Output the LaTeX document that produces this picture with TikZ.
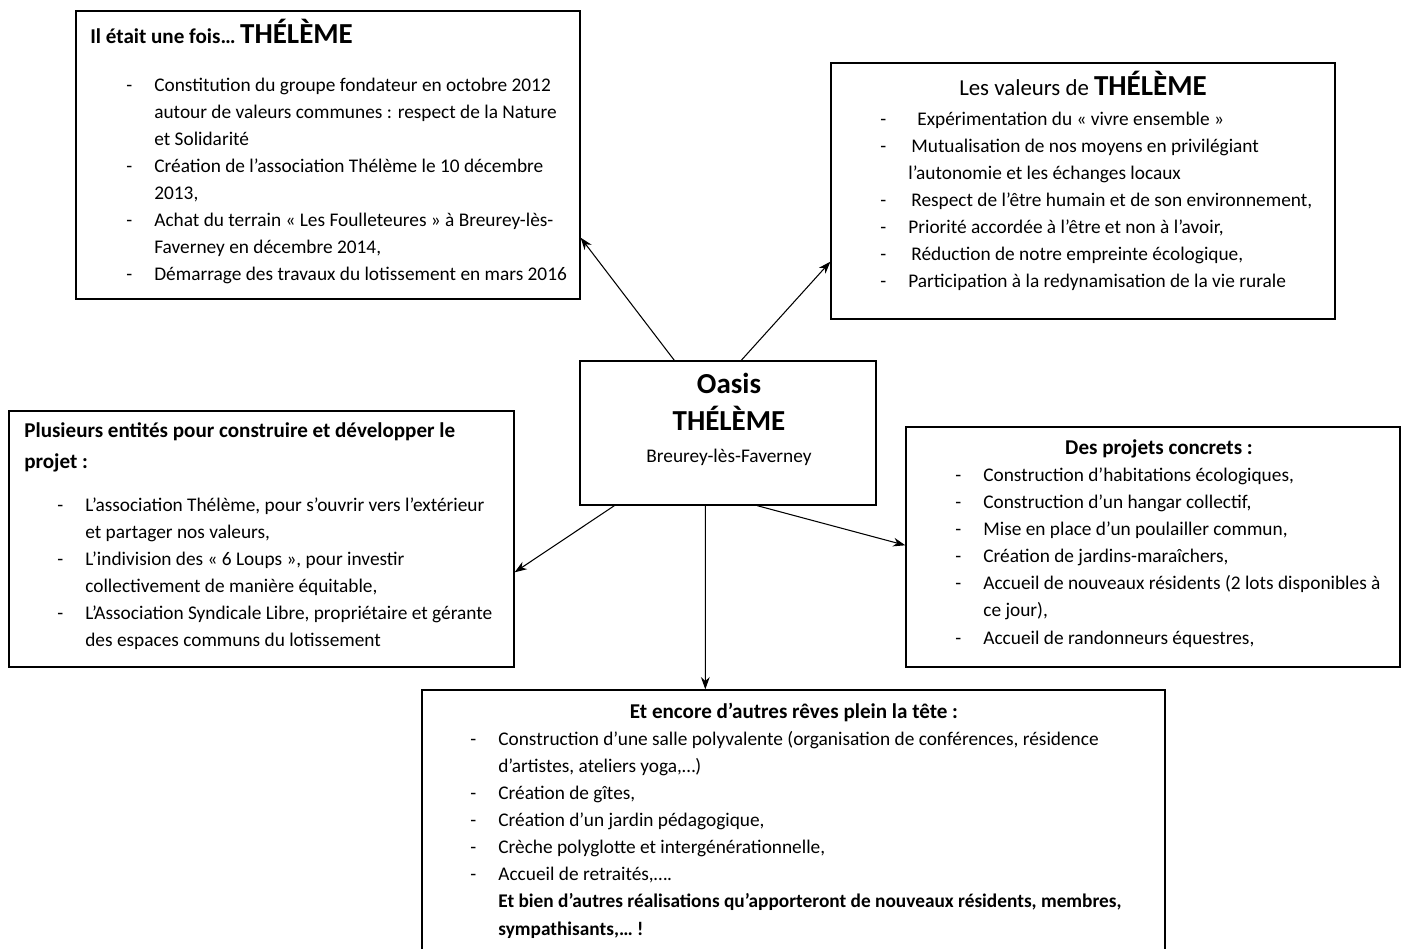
\documentclass[tikz,border=0pt]{standalone}
\usepackage{fontspec}
\setmainfont{Carlito}
\usetikzlibrary{arrows.meta}

\newcommand\tiret{\makebox[0.56cm][l]{-}}
\newcommand\suite{\hspace*{0.56cm}}

\begin{document}
\begin{tikzpicture}[x=0.02cm,y=-0.02cm,
  boite/.style={draw, line width=0.8pt, inner sep=0pt},
  liste/.style={anchor=base west, align=left, inner sep=0pt, font=\fontsize{11}{15.37}\selectfont},
  titre/.style={anchor=base, inner sep=0pt, font=\bfseries\fontsize{12}{15}\selectfont},
  fleche/.style={-{Stealth[length=7pt,width=5pt]}, line width=0.6pt}]
\clip (0,0) rectangle (1401,949);
\fill[white] (0,0) rectangle (1401,949);

\node[boite, minimum width=10.08cm, minimum height=5.76cm] (fois) at (328,155) {};
\node[boite, minimum width=10.08cm, minimum height=5.12cm] (valeurs) at (1083,191) {};
\node[boite, minimum width=5.92cm, minimum height=2.88cm] (centre) at (728,433) {};
\node[boite, minimum width=10.10cm, minimum height=5.12cm] (entites) at (261.5,539) {};
\node[boite, minimum width=9.88cm, minimum height=4.8cm] (projets) at (1153,547) {};
\node[boite, minimum width=14.86cm, minimum height=5.4cm] (reves) at (793.5,825) {};

\node[titre, anchor=base west, font=\bfseries\fontsize{12}{14}\selectfont] (foisTitre) at (90,44) {Il était une fois… {\fontsize{16.5}{19}\selectfont THÉLÈME}};
\node[liste] (foisListe) at (126,281) {\tiret Constitution du groupe fondateur en octobre 2012\\
\suite autour de valeurs communes : respect de la Nature\\
\suite et Solidarité\\
\tiret Création de l’association Thélème le 10 décembre\\
\suite 2013,\\
\tiret Achat du terrain « Les Foulleteures » à Breurey-lès-\\
\suite Faverney en décembre 2014,\\
\tiret Démarrage des travaux du lotissement en mars 2016};

\node[titre, font=\fontsize{13}{16}\selectfont] (valeursTitre) at (1083,96) {Les valeurs de {\bfseries\fontsize{16.5}{19}\selectfont THÉLÈME}};
\node[liste] (valeursListe) at (880,288) {\tiret\hspace*{0.18cm}Expérimentation du « vivre ensemble »\\
\tiret\hspace*{0.06cm}Mutualisation de nos moyens en privilégiant\\
\suite l’autonomie et les échanges locaux\\
\tiret\hspace*{0.06cm}Respect de l’être humain et de son environnement,\\
\tiret Priorité accordée à l’être et non à l’avoir,\\
\tiret\hspace*{0.06cm}Réduction de notre empreinte écologique,\\
\tiret Participation à la redynamisation de la vie rurale};

\node[titre, font=\bfseries\fontsize{16.5}{19}\selectfont] (oasis) at (729,394) {Oasis};
\node[titre, font=\bfseries\fontsize{16.5}{19}\selectfont] (theleme) at (729,431) {THÉLÈME};
\node[titre, font=\fontsize{11}{14}\selectfont] (lieu) at (729,463) {Breurey-lès-Faverney};

\node[titre, anchor=base west, align=left, font=\bfseries\fontsize{12}{18.2}\selectfont] (entitesTitre) at (24,469) {Plusieurs entités pour construire et développer le\\ projet :};
\node[liste] (entitesListe) at (57,647) {\tiret L’association Thélème, pour s’ouvrir vers l’extérieur\\
\suite et partager nos valeurs,\\
\tiret L’indivision des « 6 Loups », pour investir\\
\suite collectivement de manière équitable,\\
\tiret L’Association Syndicale Libre, propriétaire et gérante\\
\suite des espaces communs du lotissement};

\node[titre] (projetsTitre) at (1159,455) {Des projets concrets :};
\node[liste] (projetsListe) at (955,644) {\tiret Construction d’habitations écologiques,\\
\tiret Construction d’un hangar collectif,\\
\tiret Mise en place d’un poulailler commun,\\
\tiret Création de jardins-maraîchers,\\
\tiret Accueil de nouveaux résidents (2 lots disponibles à\\
\suite ce jour),\\
\tiret Accueil de randonneurs équestres,};

\node[titre] (revesTitre) at (794,719) {Et encore d’autres rêves plein la tête :};
\node[liste] (revesListe) at (470,935) {\tiret Construction d’une salle polyvalente (organisation de conférences, résidence\\
\suite d’artistes, ateliers yoga,…)\\
\tiret Création de gîtes,\\
\tiret Création d’un jardin pédagogique,\\
\tiret Crèche polyglotte et intergénérationnelle,\\
\tiret Accueil de retraités,….\\
\suite\textbf{Et bien d’autres réalisations qu’apporteront de nouveaux résidents, membres,}\\
\suite\textbf{sympathisants,… !}};

\draw[fleche] ([xshift=1.9cm]centre.north west) -- ([yshift=1.24cm]fois.south east);
\draw[fleche] ([xshift=3.24cm]centre.north west) -- ([yshift=1.16cm]valeurs.south west);
\draw[fleche] ([xshift=0.7cm]centre.south west) -- ([yshift=-3.24cm]entites.north east);
\draw[fleche] ([xshift=3.56cm]centre.south west) -- ([yshift=-2.38cm]projets.north west);
\draw[fleche] ([xshift=2.52cm]centre.south west) -- ([xshift=5.68cm]reves.north west);
\end{tikzpicture}
\end{document}
